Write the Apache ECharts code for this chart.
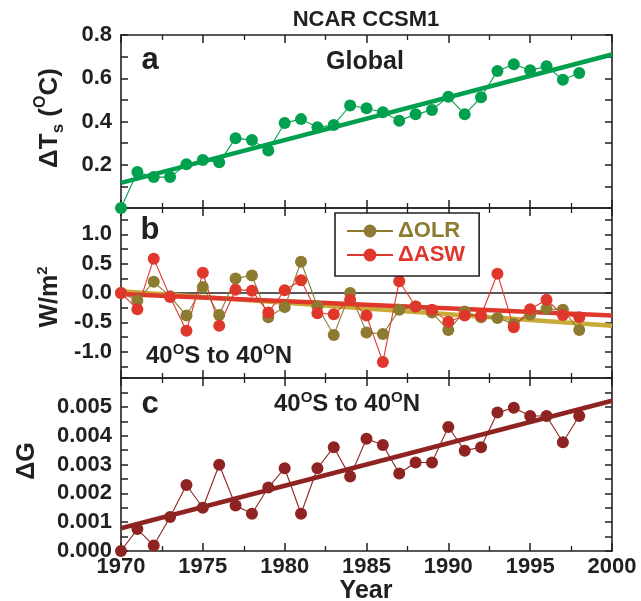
<!DOCTYPE html>
<html><head><meta charset="utf-8">
<script src="https://cdn.jsdelivr.net/npm/echarts@6/dist/echarts.min.js"></script>
<style>html,body{margin:0;padding:0;background:#fff}#c{width:641px;height:601px}</style>
</head><body><div id="c"></div>
<script>
// ---- data ----
const years = [1970,1971,1972,1973,1974,1975,1976,1977,1978,1979,1980,1981,1982,1983,1984,1985,1986,1987,1988,1989,1990,1991,1992,1993,1994,1995,1996,1997,1998];
const tsGlobal = [0.00,0.166,0.143,0.143,0.202,0.222,0.211,0.323,0.314,0.266,0.393,0.411,0.373,0.384,0.474,0.461,0.443,0.404,0.433,0.453,0.514,0.433,0.512,0.634,0.665,0.637,0.655,0.593,0.624];
const olr = [0.00,-0.126,0.19,-0.057,-0.385,0.103,-0.374,0.247,0.30,-0.414,-0.241,0.534,-0.23,-0.718,0.00,-0.672,-0.70,-0.287,-0.23,-0.333,-0.632,-0.316,-0.414,-0.425,-0.529,-0.368,-0.27,-0.287,-0.632];
const asw = [0.00,-0.276,0.586,-0.069,-0.644,0.345,-0.557,0.057,0.04,-0.333,0.046,0.218,-0.345,-0.362,-0.115,-0.385,-1.178,0.201,-0.23,-0.287,-0.489,-0.385,-0.385,0.328,-0.586,-0.276,-0.115,-0.374,-0.414];
const dG = [0.0,0.00076,0.00019,0.00118,0.00229,0.0015,0.00299,0.00158,0.00129,0.0022,0.00287,0.00129,0.00287,0.0036,0.00258,0.00389,0.00368,0.00269,0.00307,0.00307,0.0043,0.00348,0.0036,0.0048,0.00497,0.00468,0.00468,0.00377,0.00468];
const trendYears = [1970, 2000];
const tsTrend = [0.116, 0.710];
const olrTrend = [0.03, -0.557];
const aswTrend = [-0.017, -0.385];
const dGTrend = [0.00079, 0.00521];
// tick labels
const xLabels = [1970,1975,1980,1985,1990,1995,2000];
const yLabelsA = [0.2,0.4,0.6,0.8];
const yLabelsB = [-1.0,-0.5,0.0,0.5,1.0];
const yTicksB = [-1.25,-1.0,-0.75,-0.5,-0.25,0,0.25,0.5,0.75,1.0,1.25];
const yLabelsC = [0.000,0.001,0.002,0.003,0.004,0.005];

// ---- styling ----
const FF = 'Liberation Sans';
const AX = '#231f20';
const GREEN = '#00a04f';
const OLIVE = '#8c7b30';
const OLIVE_TREND = '#c9ab3a';
const RED = '#e0372c';
const DRED = '#8e2322';

const pairs = (xs, ys) => xs.map((x, i) => [x, ys[i]]);

const lblStyle = {fontSize: 22, fontWeight: 'bold', fontFamily: FF, color: AX};

function xAxisDef(gi, pos, showLabel) {
  return {
    type: 'value', gridIndex: gi, position: pos, min: 1970, max: 2000, interval: 5,
    axisLine: {show: true, onZero: false, lineStyle: {color: AX, width: 1.6}},
    axisTick: {show: true, inside: true, length: 8, lineStyle: {color: AX, width: 1.5}},
    minorTick: {show: true, splitNumber: 2, length: 5, lineStyle: {color: AX, width: 1.3}},
    splitLine: {show: false},
    axisLabel: Object.assign({show: showLabel, customValues: xLabels, margin: 5, formatter: v => String(v)}, lblStyle)
  };
}
function yAxisDef(gi, pos, showLabel, o) {
  const a = {
    type: 'value', gridIndex: gi, position: pos, min: o.min, max: o.max,
    axisLine: {show: true, onZero: false, lineStyle: {color: AX, width: 1.6}},
    axisTick: {show: true, inside: true, length: 7, lineStyle: {color: AX, width: 1.5}},
    splitLine: {show: false},
    axisLabel: Object.assign({show: showLabel, customValues: o.labels, margin: 9, formatter: v => v.toFixed(o.dec)}, lblStyle)
  };
  if (o.interval) {
    a.interval = o.interval;
    a.minorTick = {show: true, splitNumber: 2, length: 7, lineStyle: {color: AX, width: 1.5}};
  }
  if (o.ticks) a.axisTick.customValues = o.ticks;
  return a;
}
const cfgA = {min: 0, max: 0.8, interval: 0.2, labels: yLabelsA, dec: 1};
const cfgB = {min: -1.45, max: 1.45, ticks: yTicksB, labels: yLabelsB, dec: 1};
const cfgC = {min: 0, max: 0.006, interval: 0.001, labels: yLabelsC, dec: 3};

function dataSeries(name, xi, yi, vals, color) {
  return {
    type: 'line', name, xAxisIndex: xi, yAxisIndex: yi, data: pairs(years, vals),
    symbol: 'circle', symbolSize: 12, showSymbol: true,
    lineStyle: {color, width: 1.1}, itemStyle: {color}, z: 3, clip: false
  };
}
function trendSeries(xi, yi, vals, color, extra) {
  return Object.assign({
    type: 'line', xAxisIndex: xi, yAxisIndex: yi, data: pairs(trendYears, vals),
    showSymbol: false, symbol: 'none', lineStyle: {color, width: 4.5}, z: 2, silent: true
  }, extra || {});
}

const main = {fontSize: 24, lineHeight: 28, fontWeight: 'bold', fontFamily: FF, fill: AX};
const sup = {fontSize: 15, lineHeight: 15, verticalAlign: 'top', fontWeight: 'bold', fontFamily: FF, fill: AX};

function txt(x, y, text, size, align, rich, rot) {
  return {
    type: 'text', x, y, rotation: rot || 0, z: 10,
    style: {text, align: align || 'center', verticalAlign: 'middle', fontSize: size, fontWeight: 'bold', fontFamily: FF, fill: AX, rich}
  };
}

const option = {
  animation: false,
  backgroundColor: '#fff',
  grid: [
    {left: 121, right: 29, top: 35, height: 173},
    {left: 121, right: 29, top: 208, height: 170},
    {left: 121, right: 29, top: 378, height: 173}
  ],
  xAxis: [
    xAxisDef(0, 'bottom', false), xAxisDef(0, 'top', false),
    xAxisDef(1, 'bottom', false), xAxisDef(1, 'top', false),
    xAxisDef(2, 'bottom', true), xAxisDef(2, 'top', false)
  ],
  yAxis: [
    yAxisDef(0, 'left', true, cfgA), yAxisDef(0, 'right', false, cfgA),
    yAxisDef(1, 'left', true, cfgB), yAxisDef(1, 'right', false, cfgB),
    yAxisDef(2, 'left', true, cfgC), yAxisDef(2, 'right', false, cfgC)
  ],
  legend: {
    left: 335, top: 213, orient: 'vertical',
    backgroundColor: '#fff',
    borderColor: AX, borderWidth: 1.6, borderRadius: 0,
    padding: [7, 14, 10, 11], itemGap: 2, itemWidth: 46, itemHeight: 16,
    textStyle: {fontSize: 22, fontWeight: 'bold', fontFamily: FF},
    data: [
      {name: 'ΔOLR', textStyle: {color: OLIVE}},
      {name: 'ΔASW', textStyle: {color: RED}}
    ]
  },
  series: [
    trendSeries(0, 0, tsTrend, GREEN),
    dataSeries('ΔTs', 0, 0, tsGlobal, GREEN),
    trendSeries(2, 2, olrTrend, OLIVE_TREND, {
      markLine: {silent: true, symbol: 'none', label: {show: false}, lineStyle: {color: AX, width: 1.6, type: 'solid'}, data: [{yAxis: 0}], z: 1}
    }),
    trendSeries(2, 2, aswTrend, RED),
    dataSeries('ΔOLR', 2, 2, olr, OLIVE),
    dataSeries('ΔASW', 2, 2, asw, RED),
    trendSeries(4, 4, dGTrend, DRED),
    dataSeries('ΔG', 4, 4, dG, DRED)
  ],
  graphic: [
    txt(366, 20, 'NCAR CCSM1', 22),
    txt(150, 60, 'a', 31),
    txt(365, 62, 'Global', 25),
    txt(150, 230, 'b', 31),
    txt(146, 356, '{m|40}{s|O}{m|S to 40}{s|O}{m|N}', 24, 'left', {m: main, s: sup}),
    txt(150, 404, 'c', 31),
    txt(347, 404, '{m|40}{s|O}{m|S to 40}{s|O}{m|N}', 24, 'center', {m: main, s: sup}),
    txt(50, 118, '{m|ΔT}{b|s}{m| (}{s|O}{m|C)}', 26, 'center', {
      m: {fontSize: 26, lineHeight: 34, fontWeight: 'bold', fontFamily: FF, fill: AX},
      b: {fontSize: 17, lineHeight: 17, verticalAlign: 'bottom', fontWeight: 'bold', fontFamily: FF, fill: AX},
      s: {fontSize: 16, lineHeight: 16, verticalAlign: 'top', fontWeight: 'bold', fontFamily: FF, fill: AX}
    }, Math.PI / 2),
    txt(50, 297, '{m|W/m}{s|2}', 25, 'center', {
      m: {fontSize: 25, lineHeight: 30, fontWeight: 'bold', fontFamily: FF, fill: AX},
      s: {fontSize: 15, lineHeight: 15, verticalAlign: 'top', fontWeight: 'bold', fontFamily: FF, fill: AX}
    }, Math.PI / 2),
    txt(27, 461, 'ΔG', 25, 'center', null, Math.PI / 2),
    txt(366, 591, 'Year', 25)
  ]
};

const chart = echarts.init(document.getElementById('c'), null, {renderer: 'canvas'});
chart.setOption(option);
</script>
</body></html>
